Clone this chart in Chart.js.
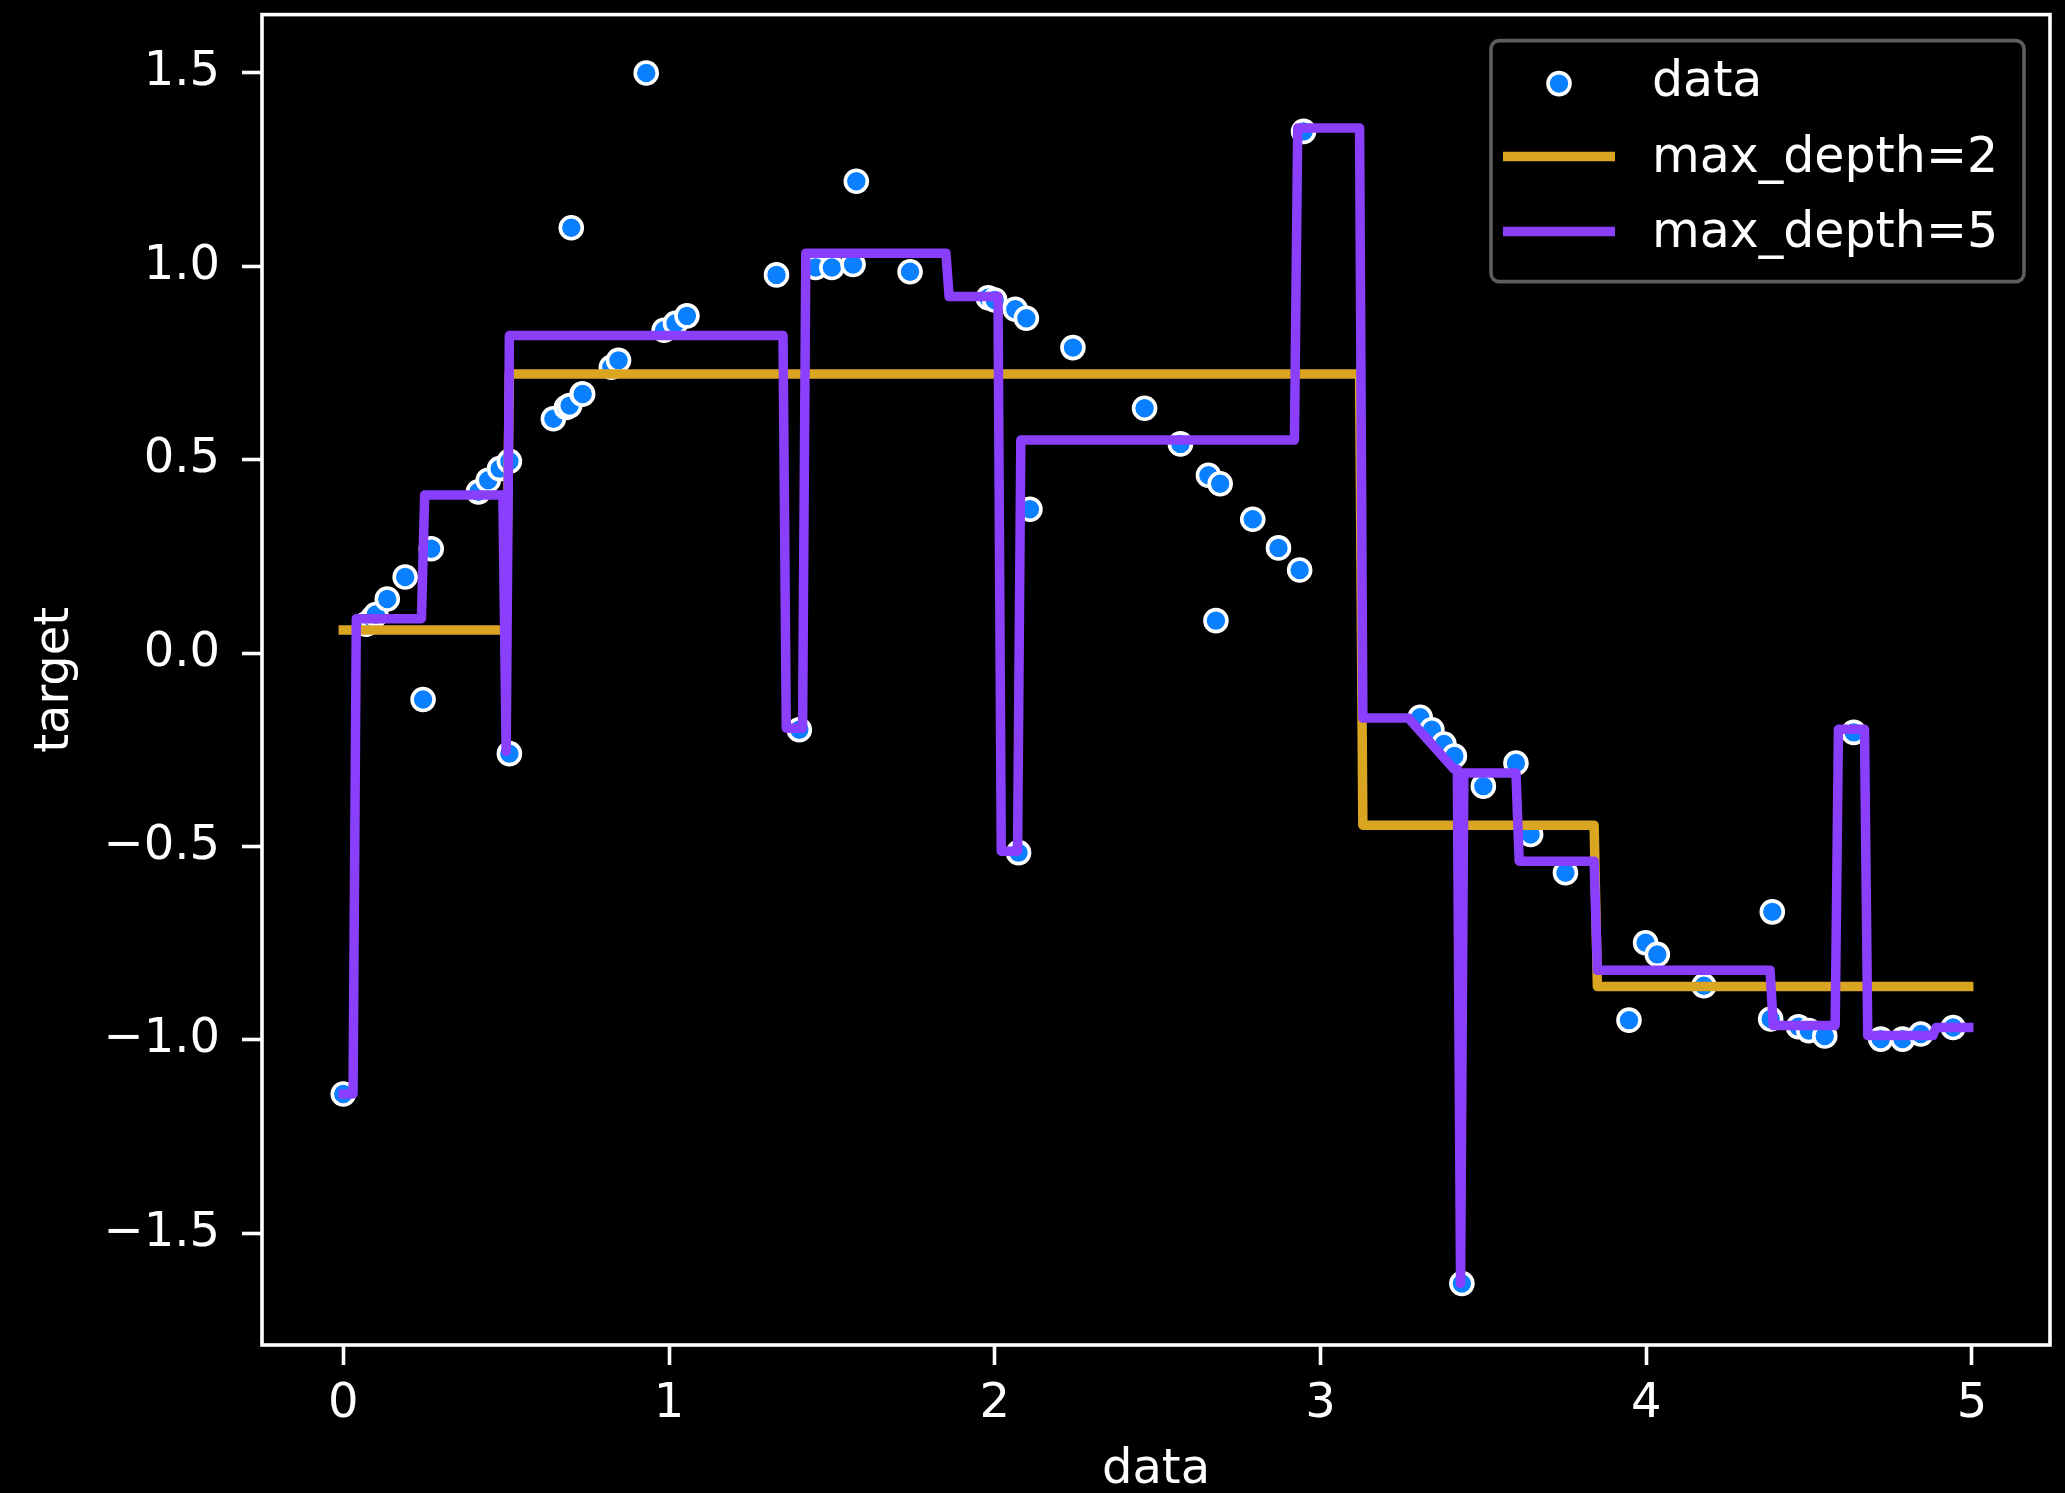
<!DOCTYPE html>
<html>
<head>
<meta charset="utf-8">
<script src="https://cdn.jsdelivr.net/npm/chart.js@4.4.1/dist/chart.umd.min.js"></script>
<style>
  html, body { margin: 0; padding: 0; background: #000; }
  canvas { display: block; }
</style>
</head>
<body>
<canvas id="c" width="2065" height="1493"></canvas>
<script>
// ---- data ----
const dataX = [0.00, 0.07, 0.09, 0.10, 0.135, 0.19, 0.245, 0.27, 0.415, 0.445, 0.48, 0.51, 0.51, 0.645, 0.685, 0.695, 0.70, 0.733, 0.735, 0.823, 0.845, 0.93, 0.985, 1.02, 1.055, 1.33, 1.40, 1.45, 1.50, 1.565, 1.575, 1.74, 1.98, 2.00, 2.063, 2.073, 2.097, 2.108, 2.24, 2.46, 2.57, 2.656, 2.679, 2.692, 2.792, 2.871, 2.936, 2.948, 3.306, 3.342, 3.379, 3.411, 3.434, 3.50, 3.60, 3.645, 3.752, 3.947, 3.998, 4.034, 4.177, 4.382, 4.387, 4.467, 4.499, 4.548, 4.637, 4.72, 4.787, 4.843, 4.942];
const dataY = [-1.14, 0.075, 0.09, 0.10, 0.14, 0.197, -0.12, 0.27, 0.417, 0.447, 0.477, 0.496, -0.26, 0.606, 0.635, 0.64, 1.10, 0.67, 0.67, 0.739, 0.757, 1.50, 0.835, 0.853, 0.872, 0.978, -0.198, 0.997, 0.997, 1.005, 1.22, 0.986, 0.919, 0.913, 0.889, -0.516, 0.866, 0.372, 0.79, 0.633, 0.541, 0.46, 0.084, 0.438, 0.346, 0.272, 0.215, 1.349, -0.166, -0.198, -0.235, -0.266, -1.63, -0.344, -0.284, -0.469, -0.568, -0.949, -0.749, -0.779, -0.86, -0.946, -0.669, -0.966, -0.976, -0.99, -0.205, -0.998, -0.998, -0.985, -0.968];

// tree predictions on the test grid (only the samples where the prediction changes)
const depth2X = [0.00, 0.50, 0.51, 3.12, 3.13, 3.84, 3.85, 4.99];
const depth2Y = [0.06, 0.06, 0.722, 0.722, -0.445, -0.445, -0.862, -0.862];

const depth5X = [0.00, 0.03, 0.04, 0.24, 0.25, 0.49, 0.50, 0.51, 1.35, 1.36, 1.41, 1.42, 1.85, 1.86, 2.01, 2.02, 2.07, 2.08, 2.92, 2.93, 3.12, 3.13, 3.27, 3.41, 3.42, 3.43, 3.44, 3.60, 3.61, 3.84, 3.85, 4.38, 4.39, 4.58, 4.59, 4.67, 4.68, 4.88, 4.89, 4.99];
const depth5Y = [-1.14, -1.14, 0.089, 0.089, 0.409, 0.409, -0.254, 0.821, 0.821, -0.194, -0.194, 1.034, 1.034, 0.922, 0.922, -0.512, -0.512, 0.551, 0.551, 1.358, 1.358, -0.168, -0.168, -0.30, -0.30, -1.63, -0.31, -0.31, -0.538, -0.538, -0.82, -0.82, -0.963, -0.963, -0.197, -0.197, -0.989, -0.989, -0.968, -0.968];

const xTicks = [0, 1, 2, 3, 4, 5];
const yTicks = [-1.5, -1.0, -0.5, 0.0, 0.5, 1.0, 1.5];

const seriesLabels = ['data', 'max_depth=2', 'max_depth=5'];
const colors = { point: '#0a80ff', d2: '#daa520', d5: '#8a3ffc' };

const toXY = (xs, ys) => xs.map((x, i) => ({ x: x, y: ys[i] }));

Chart.defaults.font.family = "'DejaVu Sans', 'Liberation Sans', sans-serif";
Chart.defaults.font.size = 48;
Chart.defaults.color = '#ffffff';

const frameAndLegend = {
  id: 'frameAndLegend',
  afterDatasetsDraw(chart) {
    const { ctx, chartArea: a } = chart;
    ctx.save();
    ctx.strokeStyle = '#ffffff';
    ctx.lineWidth = 3.6;
    ctx.strokeRect(a.left, a.top, a.right - a.left, a.bottom - a.top);
    ctx.restore();
  },
  afterDraw(chart) {
    const { ctx, chartArea: a } = chart;
    const ds = chart.data.datasets;
    const right = a.right - 26, top = a.top + 26;
    const w = 533, h = 241;
    const left = right - w;
    ctx.save();
    ctx.beginPath();
    ctx.roundRect(left, top, w, h, 8);
    ctx.fillStyle = 'rgba(0,0,0,0.8)';
    ctx.fill();
    ctx.lineWidth = 3.6;
    ctx.strokeStyle = '#5e5e5e';
    ctx.stroke();
    const rows = [top + 43, top + 116, top + 191];
    const order = [2, 1, 0]; // dataset index for data, max_depth=2, max_depth=5
    ctx.font = "49px 'DejaVu Sans'";
    ctx.textBaseline = 'alphabetic';
    ctx.textAlign = 'left';
    order.forEach((di, r) => {
      const d = ds[di];
      const cy = rows[r];
      if (d.type === 'scatter') {
        ctx.beginPath();
        ctx.arc(left + 68, cy, d.pointRadius, 0, Math.PI * 2);
        ctx.fillStyle = d.backgroundColor;
        ctx.fill();
        ctx.lineWidth = d.borderWidth;
        ctx.strokeStyle = d.borderColor;
        ctx.stroke();
      } else {
        ctx.beginPath();
        ctx.moveTo(left + 12, cy);
        ctx.lineTo(left + 124, cy);
        ctx.lineWidth = d.borderWidth;
        ctx.strokeStyle = d.borderColor;
        ctx.lineCap = 'butt';
        ctx.stroke();
      }
      ctx.fillStyle = '#ffffff';
      ctx.fillText(d.label, left + 161, cy + (r === 0 ? 12 : 15));
    });
    ctx.restore();
  }
};

const fmtY = v => {
  const s = Number(v).toFixed(1);
  return s.startsWith('-') ? '\u2212' + s.slice(1) : s;
};

new Chart(document.getElementById('c'), {
  type: 'line',
  data: {
    datasets: [
      {
        type: 'line', label: seriesLabels[2], data: toXY(depth5X, depth5Y),
        borderColor: colors.d5, backgroundColor: colors.d5, borderWidth: 9.5,
        pointRadius: 0, fill: false, tension: 0, showLine: true,
        borderJoinStyle: 'round', borderCapStyle: 'square', order: 1
      },
      {
        type: 'line', label: seriesLabels[1], data: toXY(depth2X, depth2Y),
        borderColor: colors.d2, backgroundColor: colors.d2, borderWidth: 9.5,
        pointRadius: 0, fill: false, tension: 0, showLine: true,
        borderJoinStyle: 'round', borderCapStyle: 'square', order: 2
      },
      {
        type: 'scatter', label: seriesLabels[0], data: toXY(dataX, dataY),
        backgroundColor: colors.point, borderColor: '#ffffff', borderWidth: 3.6,
        pointRadius: 11, showLine: false, order: 3
      }
    ]
  },
  options: {
    responsive: false,
    animation: false,
    events: [],
    layout: { padding: { top: 11.5, right: 15, bottom: 0, left: 0 } },
    plugins: { legend: { display: false }, tooltip: { enabled: false } },
    scales: {
      x: {
        type: 'linear', min: -0.2495, max: 5.2395,
        afterBuildTicks: s => { s.ticks = xTicks.map(v => ({ value: v })); },
        afterFit: s => { s.height = 148; s.paddingLeft = 0; s.paddingRight = 0; },
        ticks: { color: '#ffffff', padding: 11, maxRotation: 0, autoSkip: false,
                 font: { size: 48 }, callback: v => String(v) },
        grid: { display: true, drawOnChartArea: false, drawTicks: true,
                tickLength: 20, tickWidth: 3.6, tickColor: '#ffffff', color: '#ffffff' },
        border: { display: false },
        title: { display: true, text: 'data', color: '#ffffff',
                 font: { size: 48, lineHeight: 1 }, padding: { top: 0, bottom: -2 } }
      },
      y: {
        type: 'linear', min: -1.789, max: 1.651,
        afterBuildTicks: s => { s.ticks = yTicks.map(v => ({ value: v })); },
        afterFit: s => { s.width = 262; s.paddingTop = 0; s.paddingBottom = 0; },
        ticks: { color: '#ffffff', padding: 22, autoSkip: false,
                 font: { size: 48 }, callback: fmtY },
        grid: { display: true, drawOnChartArea: false, drawTicks: true,
                tickLength: 20, tickWidth: 3.6, tickColor: '#ffffff', color: '#ffffff' },
        border: { display: false },
        title: { display: true, text: 'target', color: '#ffffff',
                 font: { size: 48, lineHeight: 1 }, padding: { top: 32, bottom: 0 } }
      }
    }
  },
  plugins: [frameAndLegend]
});
</script>
</body>
</html>
